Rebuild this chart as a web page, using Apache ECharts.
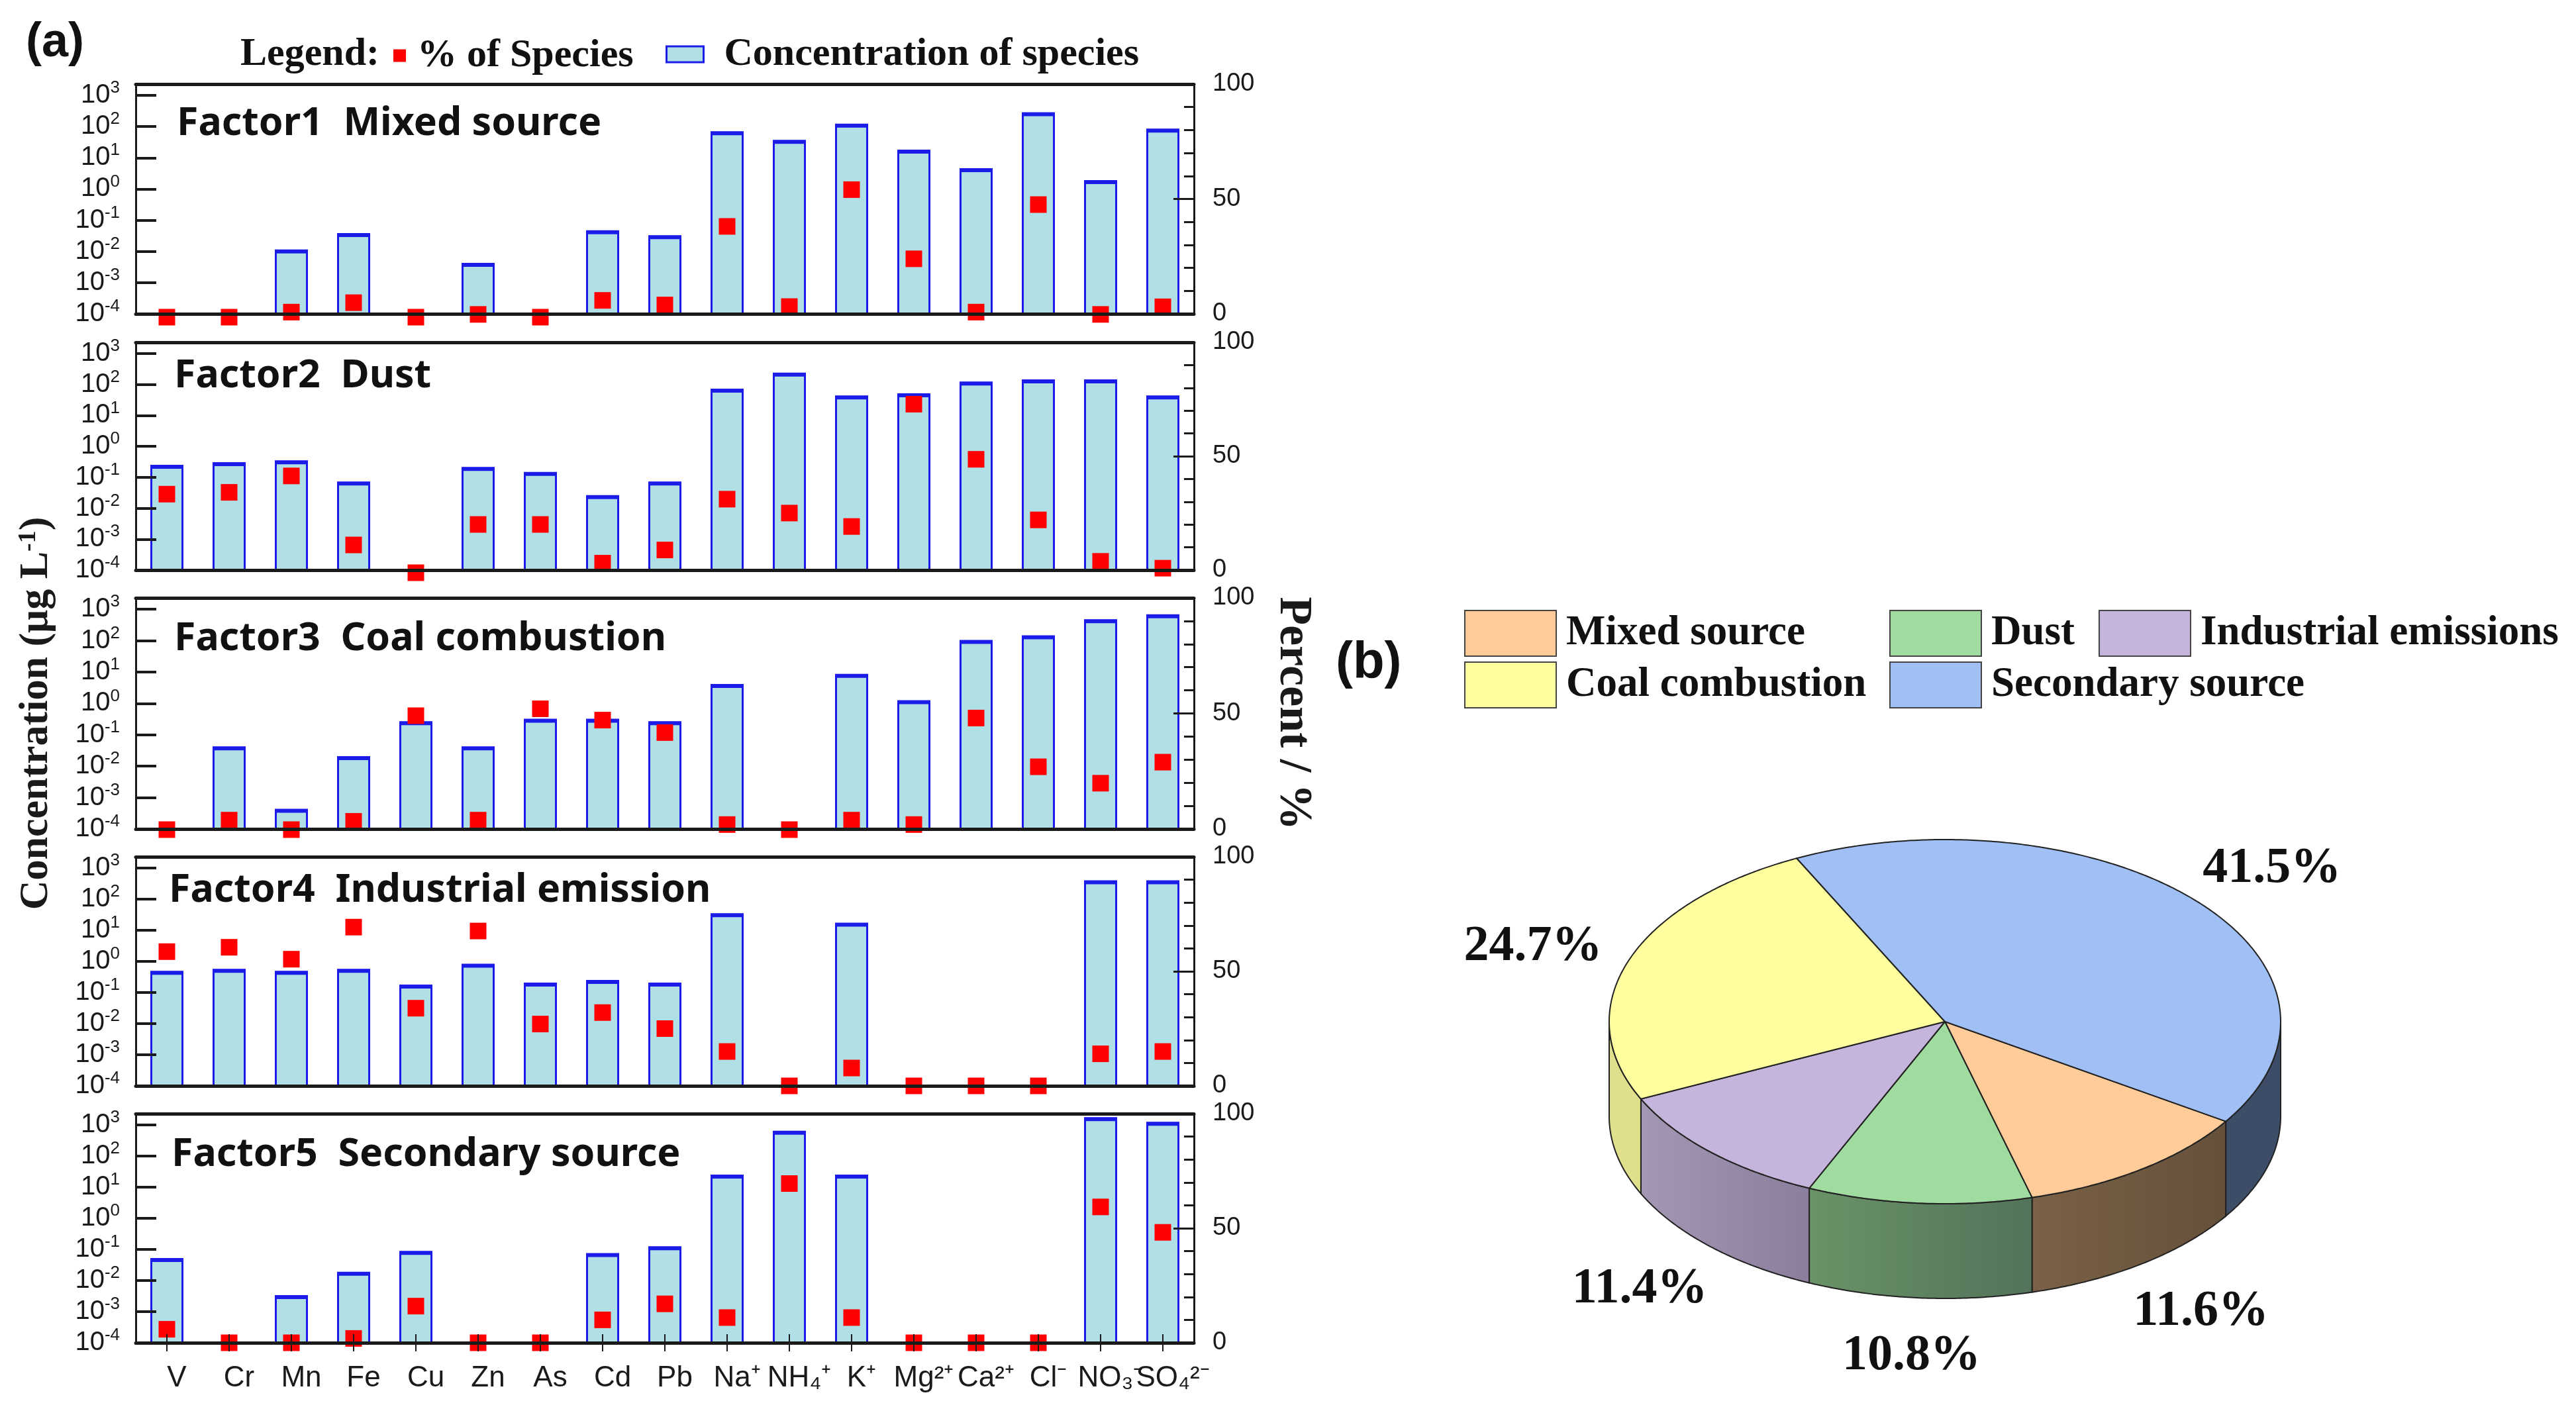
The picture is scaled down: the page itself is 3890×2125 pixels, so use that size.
<!DOCTYPE html>
<html><head><meta charset="utf-8">
<style>html,body{margin:0;padding:0;background:#fff}#c{width:3890px;height:2125px}</style>
<script src="https://cdn.jsdelivr.net/npm/echarts@6/dist/echarts.min.js"></script></head>
<body><div id="c"></div>
<script>
const species = ['V','Cr','Mn','Fe','Cu','Zn','As','Cd','Pb','Na⁺','NH₄⁺','K⁺','Mg²⁺','Ca²⁺','Cl⁻','NO₃⁻','SO₄²⁻'];
const factorNames = ['Factor1  Mixed source','Factor2  Dust','Factor3  Coal combustion','Factor4  Industrial emission','Factor5  Secondary source'];

const conc1 = [null,null,0.0105,0.035,null,0.0039,null,0.043,0.030,64,34,112,16.6,4.2,263,1.74,78];
const conc2 = [0.23,0.28,0.32,0.066,null,0.195,0.135,0.024,0.066,66,219,40,47,112,132,132,40];
const conc3 = [null,0.039,0.0004,0.019,0.245,0.039,0.295,0.295,0.245,3.8,null,7.9,1.15,95,135,436,631];
const conc4 = [0.45,0.525,0.45,0.525,0.163,0.76,0.19,0.23,0.19,32,null,16,null,null,null,365,365];
const conc5 = [0.048,null,0.0031,0.0174,0.081,null,null,0.069,0.115,23,590,23,null,null,null,1620,1150];

const pct1 = [0,0,2.2,6.3,0,1.2,0,7.3,5.3,39.5,4.6,55.5,25.4,2.2,49,1.2,4.5];
const pct2 = [34.5,35.3,42.5,12.2,0,21.2,21.2,4.2,10,32.3,26.2,20.3,74,49.8,23.2,5,2];
const pct3 = [0,4.1,0,3.6,49.3,4.1,52.3,47.4,42,2.2,0,4.1,2.2,48.3,27.2,20.1,29.2];
const pct4 = [58.6,60.5,55.3,69.3,33.9,67.6,27,32,25,15,0,7.8,0,0,0,14,15];
const pct5 = [5.9,0,0,1.9,16,0,0,10,17,11,69.5,11,0,0,0,59.3,48.2];

const sourceNames = ['Mixed source','Dust','Industrial emissions','Coal combustion','Secondary source'];
const sourceShares = [11.6,10.8,11.4,24.7,41.5];

const concSets = [conc1,conc2,conc3,conc4,conc5];
const pctSets = [pct1,pct2,pct3,pct4,pct5];

const SANS = '"Liberation Sans", Arial, sans-serif';
const SERIF = '"Liberation Serif", "Times New Roman", serif';
const INK = '#1a1a1a';
const BLUE = '#1c1ce8', FILL = '#b0e0e6', RED = '#ff0000';

const gridBox = [[127,474],[517,861],[903,1252],[1294,1640],[1682,2028]];
const titleLeft = [262,258,258,250,254];
const titleMid = [184,565,962,1342,1741];
const markerDrop = [5,4,1,0,0];
const GL = 205, GR = 1803;
const AXIS_MIN = 1e-4, AXIS_MAX = 2300;
const BAR_W = 47;

const grid=[],xAxis=[],yAxis=[],series=[],title=[];

function renderBar(params,api){
  const top = api.coord([api.value(0),api.value(1)]);
  const base = api.coord([api.value(0),AXIS_MIN]);
  const x = top[0]-BAR_W/2;
  return {type:'group',children:[
    {type:'rect',shape:{x:x,y:top[1],width:BAR_W,height:base[1]-top[1]},
      style:{fill:FILL,stroke:BLUE,lineWidth:3}},
    {type:'rect',shape:{x:x-1.5,y:top[1]-2,width:BAR_W+3,height:6},style:{fill:BLUE}}
  ]};
}

gridBox.forEach(function(b,i){
  grid.push({left:GL,top:b[0],width:GR-GL,height:b[1]-b[0]});
  const isLast = i===4, isMid = i===2;
  const xBase = xAxis.length, yBase = yAxis.length;
  xAxis.push({
    type:'category',gridIndex:i,data:species,position:'bottom',z:6,
    axisLine:{show:true,onZero:false,lineStyle:{color:INK,width:5}},
    axisTick:{show:isLast,alignWithLabel:true,length:13,lineStyle:{color:INK,width:2}},
    axisLabel:{show:isLast,interval:0,fontFamily:SANS,fontSize:44,color:INK,margin:32,padding:[0,0,0,30]}
  });
  xAxis.push({
    type:'category',gridIndex:i,data:species,position:'top',z:6,
    axisLine:{show:true,onZero:false,lineStyle:{color:INK,width:5}},
    axisTick:{show:false},axisLabel:{show:false}
  });
  xAxis.push({
    type:'category',gridIndex:i,data:species,position:'bottom',z:6,
    axisLine:{show:false},
    axisTick:{show:isLast,inside:true,alignWithLabel:true,length:13,lineStyle:{color:INK,width:2}},
    axisLabel:{show:false}
  });
  yAxis.push({
    type:'log',logBase:10,gridIndex:i,min:AXIS_MIN,max:AXIS_MAX,position:'left',z:6,
    splitLine:{show:false},minorTick:{show:false},minorSplitLine:{show:false},
    axisLine:{show:true,onZero:false,lineStyle:{color:INK,width:3}},
    axisTick:{show:true,inside:true,length:31,lineStyle:{color:INK,width:4}},
    axisLabel:{margin:24,showMaxLabel:false,fontFamily:SANS,
      formatter:function(v){const e=Math.log10(v);const r=Math.round(e);
        if(Math.abs(e-r)>1e-6)return '';return '{b|10}{s|'+r+'}';},
      rich:{b:{fontSize:40,fontFamily:SANS,color:INK},s:{fontSize:26,fontFamily:SANS,color:INK,padding:[0,0,22,0]}}},
    name:isMid?'Concentration (μg L{u|-1})':'',nameLocation:'middle',nameGap:119,
    nameTextStyle:{fontFamily:SERIF,fontWeight:'bold',fontSize:62,color:'#1a1a1a',
      rich:{u:{fontFamily:SERIF,fontWeight:'bold',fontSize:38,color:'#1a1a1a',padding:[0,0,24,0]}}}
  });
  yAxis.push({
    type:'value',gridIndex:i,min:0,max:100,interval:50,position:'right',z:6,
    splitLine:{show:false},
    axisLine:{show:true,onZero:false,lineStyle:{color:INK,width:3}},
    axisTick:{show:true,inside:true,length:31,lineStyle:{color:INK,width:3}},
    minorTick:{show:true,splitNumber:5,length:15,lineStyle:{color:INK,width:3}},
    axisLabel:{margin:28,fontFamily:SANS,fontSize:38,color:INK,showMinLabel:true,showMaxLabel:true},
    name:isMid?'Percent / %':'',nameLocation:'middle',nameGap:114,nameRotate:-90,
    nameTextStyle:{fontFamily:SERIF,fontWeight:'bold',fontSize:70,color:'#1a1a1a'}
  });
  series.push({
    type:'custom',name:'Concentration of species',xAxisIndex:xBase,yAxisIndex:yBase,coordinateSystem:'cartesian2d',
    data:concSets[i].map(function(v,j){return v==null?null:[j,v];}).filter(Boolean),
    encode:{x:0,y:1},renderItem:renderBar,clip:false,
    itemStyle:{color:FILL,borderColor:BLUE,borderWidth:3},z:2
  });
  series.push({
    type:'scatter',name:'% of Species',xAxisIndex:xBase,yAxisIndex:yBase+1,
    data:pctSets[i],symbol:'rect',symbolSize:25,symbolOffset:[0,markerDrop[i]],clip:false,
    itemStyle:{color:RED,opacity:1},z:4
  });
  title.push({text:factorNames[i],left:titleLeft[i],top:titleMid[i]-31,
    textStyle:{fontFamily:'"Noto Sans", sans-serif',fontWeight:'bold',fontSize:59,color:'#111'}});
});

title.push({text:'(a)',left:34,top:24,textStyle:{fontFamily:SANS,fontWeight:'bold',fontSize:72,color:'#111'}});
title.push({text:'(b)',left:2012,top:958,textStyle:{fontFamily:SANS,fontWeight:'bold',fontSize:78,color:'#111'}});
title.push({text:'Legend:',left:358,top:47,textStyle:{fontFamily:SERIF,fontWeight:'bold',fontSize:60,color:'#111'}});

/* (b) tilted pie: slices are built from the shares */
const PIE = {cx:2937,cy:1543,rx:507,ry:275,depth:143,start:33.2};
const topColors = ['#ffcc99','#a0dca0','#c5b5dc','#ffffa0','#9fbff5'];
const wallColors = [['#7a6147','#65503a'],['#6a9367','#53735a'],['#a397b4','#8a7e9c'],['#dfdf8c','#dfdf8c'],['#3d4d68','#3d4d68']];
const total = sourceShares.reduce(function(a,b){return a+b},0);
function ellipsePt(deg,dy){const t=deg*Math.PI/180;return [PIE.cx+PIE.rx*Math.cos(t),PIE.cy+PIE.ry*Math.sin(t)+(dy||0)];}
let cursor = PIE.start;
sourceNames.forEach(function(name,k){
  const a0 = cursor, a1 = cursor + sourceShares[k]/total*360; cursor = a1;
  series.push({
    type:'custom',name:name,coordinateSystem:'none',data:[[sourceShares[k]]],z:2,
    itemStyle:{color:topColors[k],borderColor:'#222',borderWidth:2},
    renderItem:function(params,api){
      const kids=[];
      const top=[[PIE.cx,PIE.cy]];
      for(let d=a0;d<=a1+1e-6;d+=0.5)top.push(ellipsePt(Math.min(d,a1)));
      top.push(ellipsePt(a1));
      const ranges=[];
      for(let base=-360;base<=720;base+=360){
        const lo=Math.max(a0,base),hi=Math.min(a1,base+180);
        if(hi>lo)ranges.push([lo,hi]);
      }
      ranges.forEach(function(r){
        const pts=[];
        for(let d=r[0];d<=r[1]+1e-6;d+=0.5)pts.push(ellipsePt(Math.min(d,r[1])));
        pts.push(ellipsePt(r[1]));
        for(let d=r[1];d>=r[0]-1e-6;d-=0.5)pts.push(ellipsePt(Math.max(d,r[0]),PIE.depth));
        pts.push(ellipsePt(r[0],PIE.depth));
        kids.push({type:'polygon',shape:{points:pts},style:{
          fill:new echarts.graphic.LinearGradient(0,0,1,0,[{offset:0,color:wallColors[k][0]},{offset:1,color:wallColors[k][1]}]),
          stroke:'#222',lineWidth:2}});
      });
      kids.push({type:'polygon',shape:{points:top},style:{fill:topColors[k],stroke:'#222',lineWidth:2}});
      const mid=(a0+a1)/2,t=mid*Math.PI/180;
      const lx=PIE.cx+1.3*PIE.rx*Math.cos(t);
      const ly=PIE.cy+1.3*PIE.ry*Math.sin(t)+(Math.sin(t)>0?PIE.depth:0)+6;
      kids.push({type:'text',x:lx,y:ly,style:{text:api.value(0).toFixed(1)+'%',align:'center',verticalAlign:'middle',
        fontFamily:SERIF,fontWeight:'bold',fontSize:76,fill:'#111'},z2:50});
      return {type:'group',children:kids};
    }
  });
});

const pieLegendPos = [[2211,921],[2853,921],[3169,921],[2211,999],[2853,999]];
const legend = [
  {data:['% of Species'],left:594,top:49,itemWidth:19,itemHeight:19,itemGap:0,icon:'rect',selectedMode:false,padding:[5,0,0,0],
   textStyle:{fontFamily:SERIF,fontWeight:'bold',fontSize:60,color:'#111',padding:[0,0,0,12]}},
  {data:['Concentration of species'],left:1005,top:47,itemWidth:56,itemHeight:24,itemGap:0,selectedMode:false,padding:[5,0,0,0],
   itemStyle:{color:FILL,borderColor:BLUE,borderWidth:3},icon:'rect',
   textStyle:{fontFamily:SERIF,fontWeight:'bold',fontSize:60,color:'#111',padding:[0,0,0,26]}}
];
sourceNames.forEach(function(n,k){
  legend.push({data:[n],left:pieLegendPos[k][0],top:pieLegendPos[k][1],itemWidth:138,itemHeight:69,itemGap:0,selectedMode:false,
    icon:'rect',padding:0,itemStyle:{color:topColors[k],borderColor:'#444',borderWidth:2},
    textStyle:{fontFamily:SERIF,fontWeight:'bold',fontSize:63,color:'#111',padding:[14,0,0,10]}});
});

const chart = echarts.init(document.getElementById('c'),null,{renderer:'canvas',width:3890,height:2125});
chart.setOption({animation:false,backgroundColor:'#fff',title:title,legend:legend,grid:grid,xAxis:xAxis,yAxis:yAxis,series:series,tooltip:{show:false}});
</script></body></html>
